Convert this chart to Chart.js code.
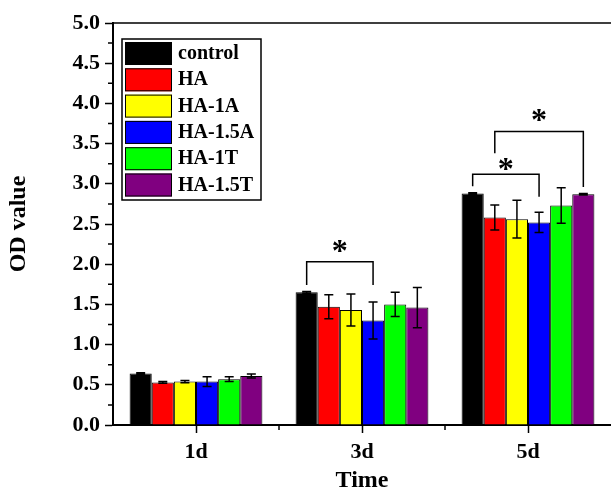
<!DOCTYPE html>
<html>
<head>
<meta charset="utf-8">
<script src="https://cdn.jsdelivr.net/npm/chart.js@4.4.1/dist/chart.umd.min.js"></script>
<style>
  html, body { margin: 0; padding: 0; background: #fff; }
  #wrap { width: 611px; height: 489px; }
</style>
</head>
<body>
<div id="wrap"><canvas id="odChart" width="611" height="489"></canvas></div>
<script>
// OD value by culture time, six groups

const timeLabels = ['1d', '3d', '5d'];
const groupNames = ['control', 'HA', 'HA-1A', 'HA-1.5A', 'HA-1T', 'HA-1.5T'];
const groupColors = ['#000000', '#ff0000', '#ffff00', '#0000ff', '#00ff00', '#800080'];

const odControl = [0.64, 1.65, 2.88];
const odHA      = [0.53, 1.47, 2.58];
const odHA1A    = [0.54, 1.43, 2.56];
const odHA15A   = [0.54, 1.30, 2.52];
const odHA1T    = [0.57, 1.50, 2.73];
const odHA15T   = [0.61, 1.46, 2.87];

const errControl = [0.01, 0.01, 0.01];
const errHA      = [0.01, 0.15, 0.155];
const errHA1A    = [0.015, 0.20, 0.235];
const errHA15A   = [0.06, 0.23, 0.125];
const errHA1T    = [0.03, 0.15, 0.22];
const errHA15T   = [0.025, 0.25, 0.01];

const yTicks = [0, 0.5, 1, 1.5, 2, 2.5, 3, 3.5, 4, 4.5, 5];

// significance brackets (category, from group, to group, heights in OD units)
const sigCategory = [1, 2, 2];
const sigFrom     = [0, 0, 1];
const sigTo       = [3, 3, 5];
const sigTop      = [2.03, 3.12, 3.65];
const sigLeftEnd  = [1.74, 2.97, 3.38];
const sigRightEnd = [1.74, 2.84, 2.96];
const sigStar     = [2.20, 3.23, 3.84];

const SERIF = "'Liberation Serif','Times New Roman',serif";

const allValues = [odControl, odHA, odHA1A, odHA15A, odHA1T, odHA15T];
const allErrors = [errControl, errHA, errHA1A, errHA15A, errHA1T, errHA15T];

const datasets = groupNames.map((name, i) => ({
  label: name,
  data: allValues[i],
  errors: allErrors[i],
  backgroundColor: groupColors[i],
  borderColor: '#000',
  borderWidth: 1,
  categoryPercentage: 0.8,
  barPercentage: 1.0,
}));

// error bars
const errorBars = {
  id: 'errorBars',
  afterDatasetsDraw(chart) {
    const { ctx } = chart;
    const y = chart.scales.y;
    ctx.save();
    ctx.strokeStyle = '#000';
    ctx.lineWidth = 1.5;
    chart.data.datasets.forEach((ds, i) => {
      chart.getDatasetMeta(i).data.forEach((bar, j) => {
        const v = ds.data[j], e = ds.errors[j];
        const yt = y.getPixelForValue(v + e), yb = y.getPixelForValue(v - e);
        ctx.beginPath();
        ctx.moveTo(bar.x, yt); ctx.lineTo(bar.x, yb);
        ctx.moveTo(bar.x - 4.5, yt); ctx.lineTo(bar.x + 4.5, yt);
        ctx.moveTo(bar.x - 4.5, yb); ctx.lineTo(bar.x + 4.5, yb);
        ctx.stroke();
      });
    });
    ctx.restore();
  },
};

// brackets with stars
const sigMarks = {
  id: 'sigMarks',
  afterDatasetsDraw(chart) {
    const { ctx } = chart;
    const y = chart.scales.y;
    ctx.save();
    ctx.strokeStyle = '#000';
    ctx.lineWidth = 1.5;
    ctx.fillStyle = '#000';
    ctx.font = 'bold 32px ' + SERIF;
    ctx.textAlign = 'center';
    ctx.textBaseline = 'middle';
    sigCategory.forEach((c, k) => {
      const x1 = chart.getDatasetMeta(sigFrom[k]).data[c].x;
      const x2 = chart.getDatasetMeta(sigTo[k]).data[c].x;
      const yt = y.getPixelForValue(sigTop[k]);
      ctx.beginPath();
      ctx.moveTo(x1, y.getPixelForValue(sigLeftEnd[k]));
      ctx.lineTo(x1, yt);
      ctx.lineTo(x2, yt);
      ctx.lineTo(x2, y.getPixelForValue(sigRightEnd[k]));
      ctx.stroke();
      ctx.fillText('*', (x1 + x2) / 2, y.getPixelForValue(sigStar[k]) + 5);
    });
    ctx.restore();
  },
};

// frame top line, minor ticks, legend box
const frameAndLegend = {
  id: 'frameAndLegend',
  afterDraw(chart) {
    const { ctx, chartArea: a } = chart;
    const x = chart.scales.x, y = chart.scales.y;
    ctx.save();
    ctx.strokeStyle = '#000';
    ctx.lineWidth = 1.5;
    ctx.beginPath();
    ctx.moveTo(a.left, a.top); ctx.lineTo(a.right, a.top);
    // minor ticks y
    for (let i = 0; i < y.ticks.length - 1; i++) {
      const py = y.getPixelForValue((y.ticks[i].value + y.ticks[i + 1].value) / 2);
      ctx.moveTo(a.left - 5, py); ctx.lineTo(a.left, py);
    }
    // minor ticks x (category boundaries)
    for (let i = 0; i < timeLabels.length - 1; i++) {
      const px = (x.getPixelForValue(i) + x.getPixelForValue(i + 1)) / 2;
      ctx.moveTo(px, a.bottom); ctx.lineTo(px, a.bottom + 5);
    }
    ctx.stroke();

    // legend
    const bx = a.left + 9, by = a.top + 16, bw = 139, bh = 161, row = 26.3;
    ctx.lineWidth = 1.5;
    ctx.strokeRect(bx, by, bw, bh);
    ctx.font = 'bold 20px ' + SERIF;
    ctx.textAlign = 'left';
    ctx.textBaseline = 'middle';
    chart.data.datasets.forEach((ds, i) => {
      const ry = by + 3 + i * row;
      ctx.fillStyle = ds.backgroundColor;
      ctx.fillRect(bx + 3, ry, 47, 23);
      ctx.lineWidth = 1;
      ctx.strokeRect(bx + 3.5, ry + 0.5, 46, 22);
      ctx.fillStyle = '#000';
      ctx.fillText(ds.label, bx + 56, ry + 12);
    });
    ctx.restore();
  },
};

new Chart(document.getElementById('odChart'), {
  type: 'bar',
  data: { labels: timeLabels, datasets },
  options: {
    responsive: false,
    animation: false,
    layout: { padding: { top: 23, right: 0, left: 0, bottom: 0 } },
    plugins: { legend: { display: false }, tooltip: { enabled: false } },
    scales: {
      x: {
        afterFit: s => { s.height = 64; },
        grid: { drawOnChartArea: false, offset: false, tickLength: 8, tickWidth: 1.5, tickColor: '#000' },
        border: { color: '#000', width: 2 },
        ticks: { color: '#000', padding: 6, font: { family: SERIF, size: 22, weight: 'bold' } },
        title: {
          display: true, text: 'Time', color: '#000',
          font: { family: SERIF, size: 24, weight: 'bold', lineHeight: 1 },
          padding: { top: 0, bottom: -4 },
        },
      },
      y: {
        min: 0, max: 5,
        afterFit: s => { s.width = 113; },
        afterBuildTicks: s => { s.ticks = yTicks.map(v => ({ value: v })); },
        grid: { drawOnChartArea: false, tickLength: 8, tickWidth: 1.5, tickColor: '#000' },
        border: { color: '#000', width: 2 },
        ticks: {
          color: '#000', padding: 5,
          font: { family: SERIF, size: 22, weight: 'bold' },
          callback: v => Number(v).toFixed(1),
        },
        title: {
          display: true, text: 'OD value', color: '#000',
          font: { family: SERIF, size: 24, weight: 'bold', lineHeight: 1 },
          padding: { top: 7, bottom: 0 },
        },
      },
    },
  },
  plugins: [errorBars, sigMarks, frameAndLegend],
});
</script>
</body>
</html>
